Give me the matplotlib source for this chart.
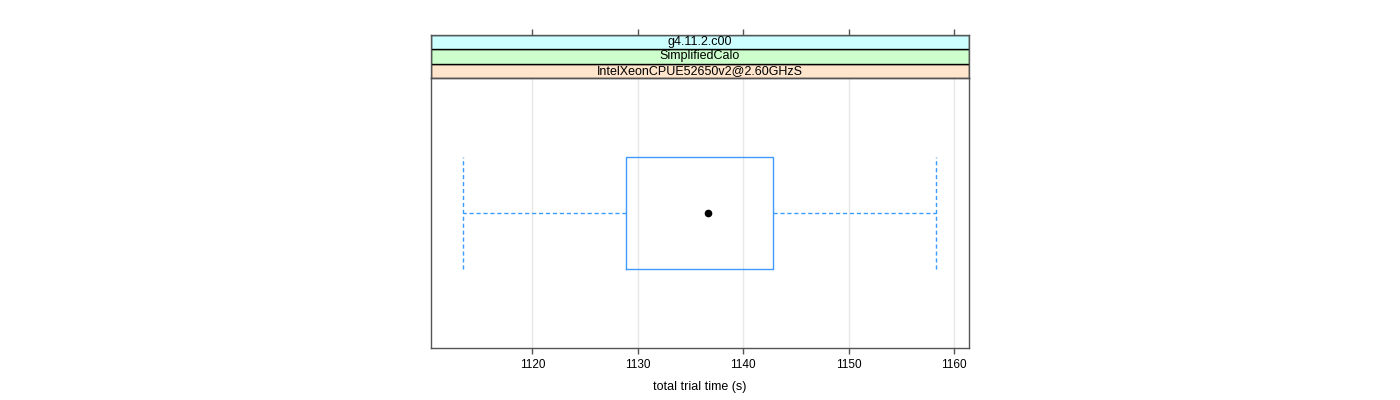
import matplotlib
matplotlib.use('Agg')
import matplotlib.pyplot as plt
from matplotlib.patches import Rectangle

plt.rcParams['font.family'] = ['Liberation Sans', 'DejaVu Sans']

# box statistics (total trial time, s)
whisker_low = 1113.45
q1 = 1128.9
median = 1136.7
q3 = 1142.85
whisker_high = 1158.3

xticks = [1120, 1130, 1140, 1150, 1160]
xlim = (1110.34, 1161.45)

# strip labels, bottom to top
strip_labels = ['IntelXeonCPUE52650v2@2.60GHzS', 'SimplifiedCalo', 'g4.11.2.c00']
strip_colors = ['#ffe5cc', '#ccffcc', '#ccffff']

blue = '#3d9bff'
W, H = 1400, 400

fig = plt.figure(figsize=(14, 4), dpi=100)
left = 430.5 / W
width = (969.3 - 430.5) / W
ax = fig.add_axes([left, (H - 347.7) / H, width, (347.7 - 78.3) / H])

stats = [dict(med=median, q1=q1, q3=q3, whislo=whisker_low, whishi=whisker_high, fliers=[])]
ax.bxp(stats, positions=[1], widths=0.5, capwidths=0.5, orientation='horizontal',
       showfliers=False,
       boxprops=dict(color=blue, lw=1),
       whiskerprops=dict(color=blue, lw=1, ls=(0, (3, 2))),
       capprops=dict(color=blue, lw=1, ls=(0, (3, 2))),
       medianprops=dict(visible=False))
ax.plot([median], [1], 'o', color='black', ms=4.5, zorder=5)

ax.set_xlim(*xlim)
ax.set_ylim(0.4, 1.6)
ax.set_xticks(xticks)
ax.set_xticklabels([str(t) for t in xticks], fontsize=8.5)
ax.set_yticks([])
for t in xticks:
    ax.axvline(t, color='#e8e8e8', lw=1, zorder=0)
ax.tick_params(axis='x', direction='out', length=4, width=1, color='#555555', pad=4)
for s in ax.spines.values():
    s.set_color('#555555')
    s.set_linewidth(1)
ax.set_xlabel('total trial time (s)', fontsize=9, labelpad=7)

# strip area with top ticks
sax = fig.add_axes([left, (H - 78.3) / H, width, (78.3 - 34.7) / H])
sax.set_xlim(*xlim)
sax.set_ylim(0, 3)
sax.set_yticks([])
sax.set_xticks(xticks)
sax.xaxis.tick_top()
sax.tick_params(axis='x', direction='out', length=4, width=1, color='#555555', labeltop=False)
for i, (lab, c) in enumerate(zip(strip_labels, strip_colors)):
    sax.add_patch(Rectangle((0, i), 1, 1, transform=sax.get_yaxis_transform(),
                            facecolor=c, edgecolor='black', lw=1))
    sax.text(0.5, i + 0.5, lab, transform=sax.get_yaxis_transform(), ha='center',
             va='center', fontsize=9)
for s in sax.spines.values():
    s.set_color('#555555')
    s.set_linewidth(1)

fig.savefig('out.png', dpi=100)
